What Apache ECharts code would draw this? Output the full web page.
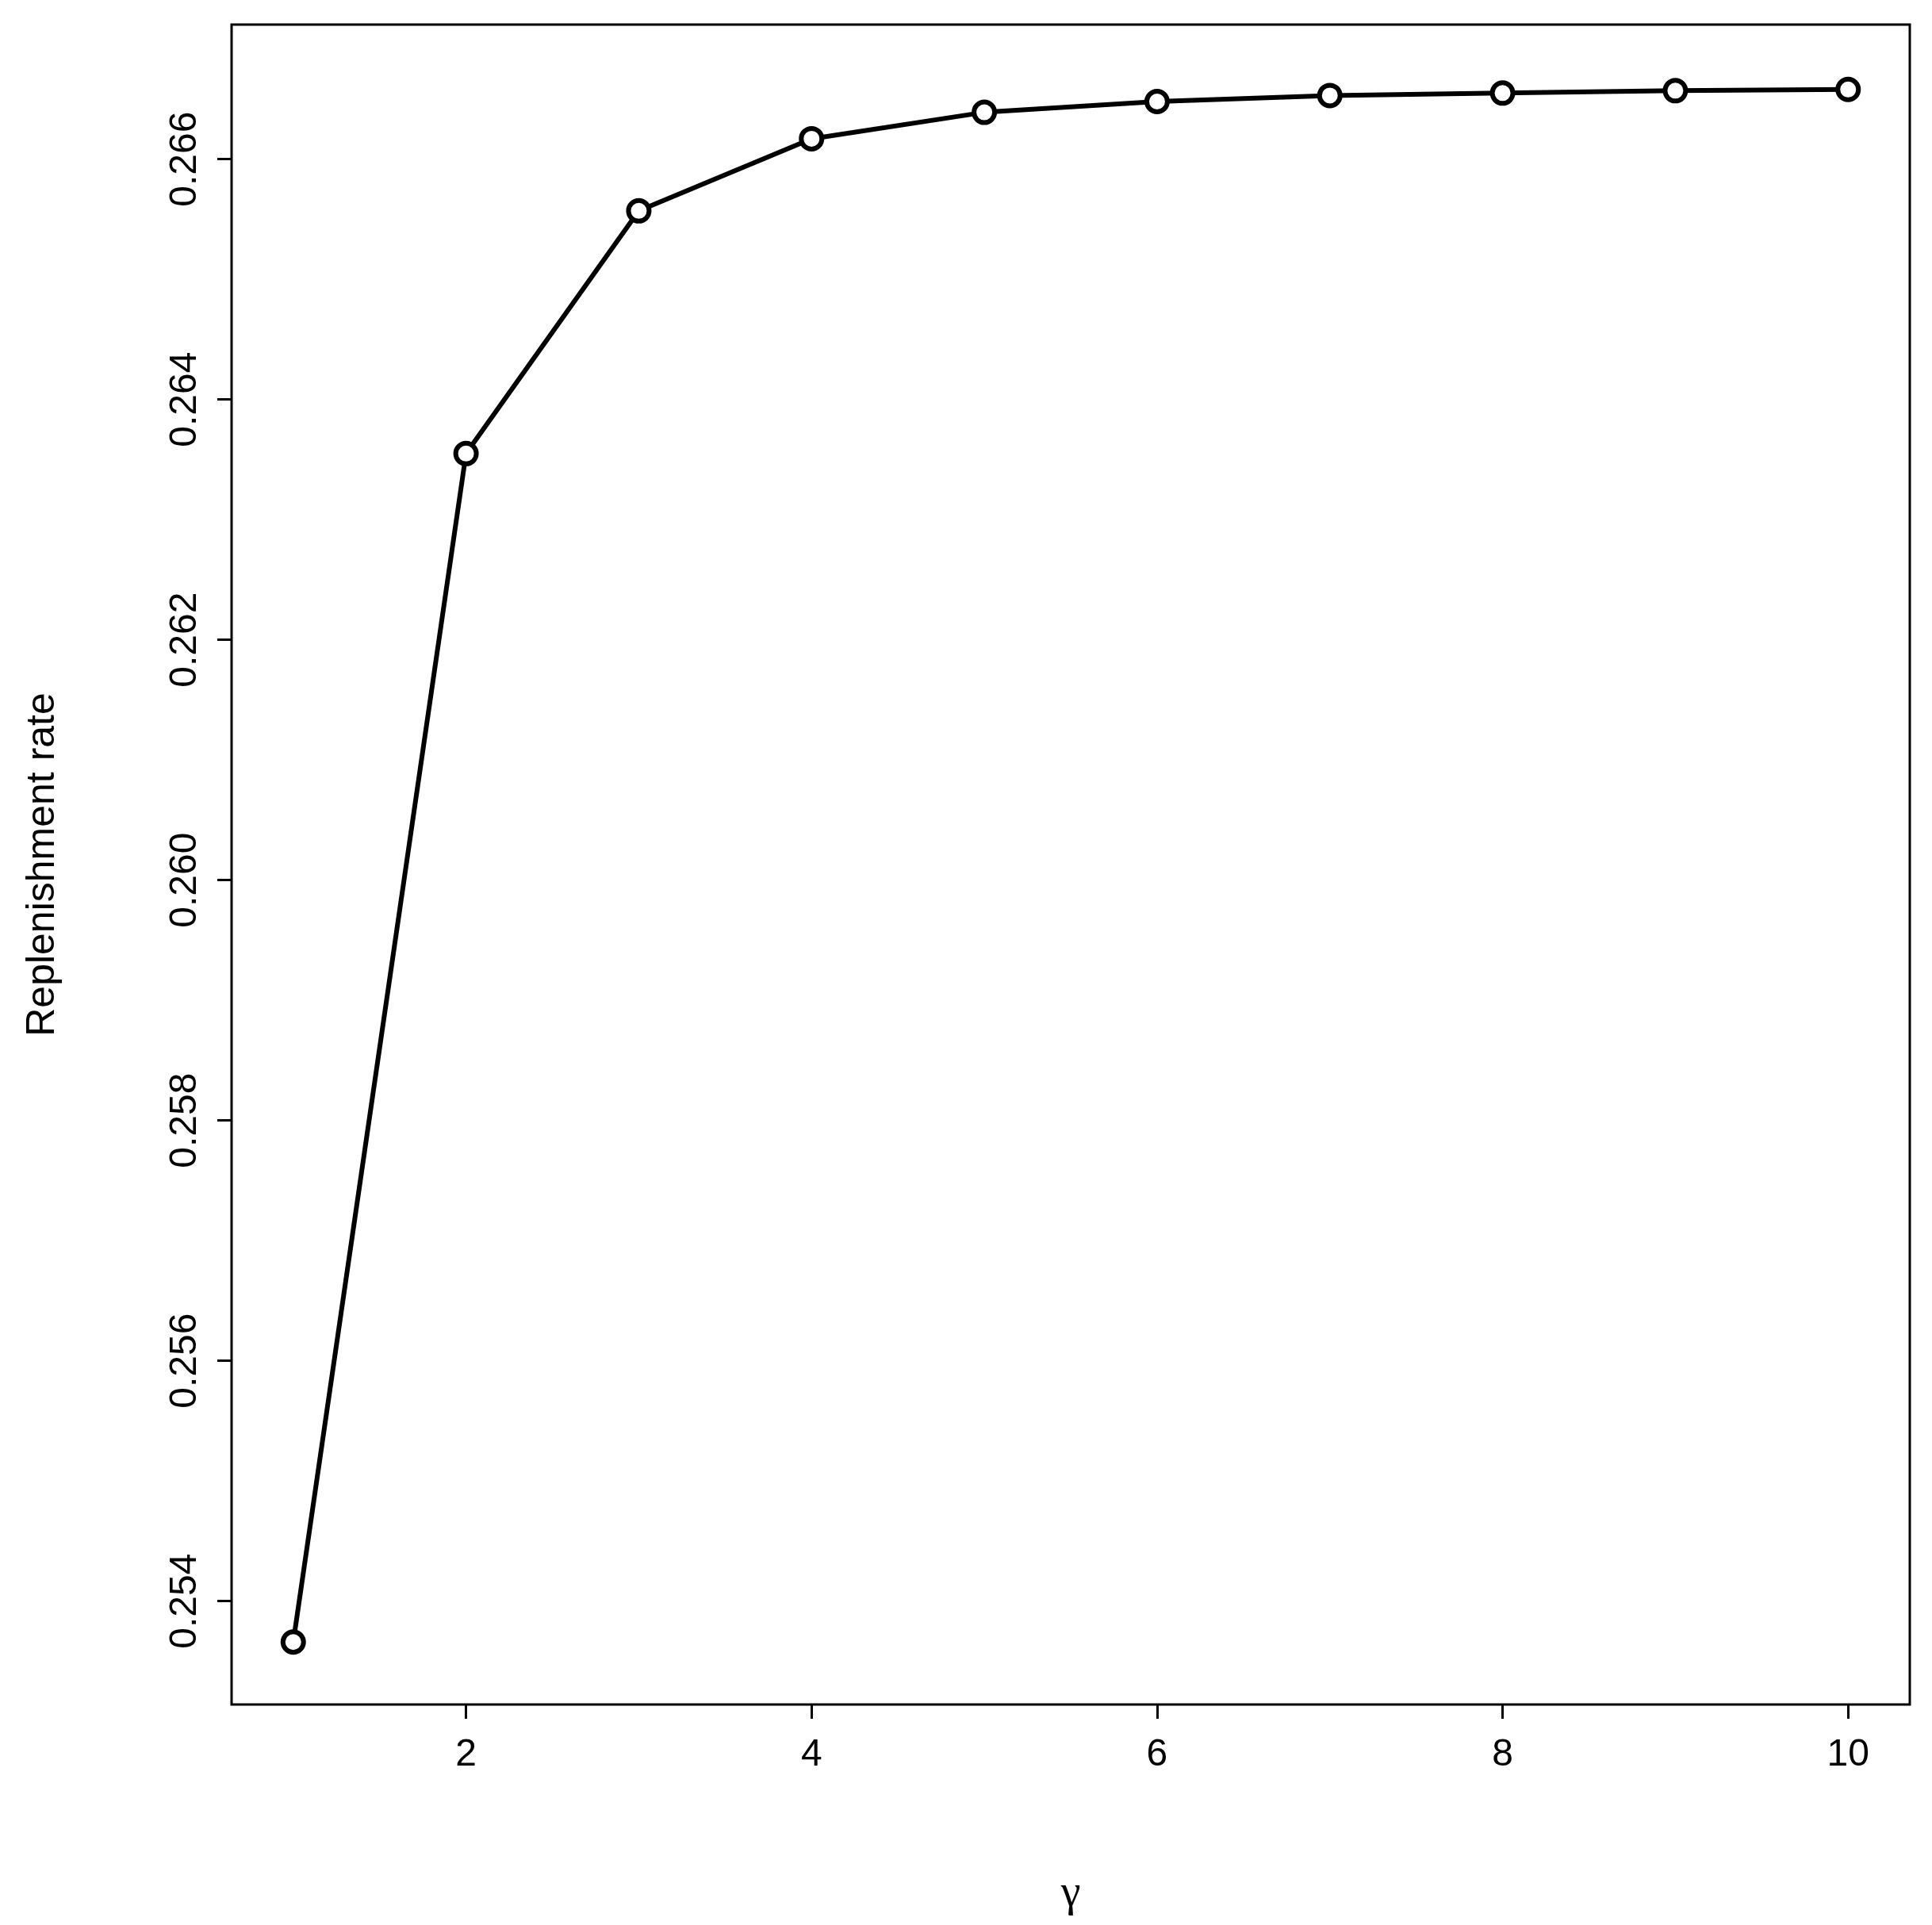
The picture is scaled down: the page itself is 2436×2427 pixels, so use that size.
<!DOCTYPE html>
<html><head><meta charset="utf-8">
<script src="https://cdn.jsdelivr.net/npm/echarts@6/dist/echarts.min.js"></script>
<style>html,body{margin:0;padding:0;background:#fff}#c{width:2436px;height:2427px}</style>
</head><body><div id="c"></div>
<script>
const gammaValues = [1,2,3,4,5,6,7,8,9,10];
const replenishmentRate = [0.25366,0.26355,0.26557,0.26617,0.26639,0.26648,0.26653,0.26655,0.26657,0.26658];
const xTicks = [2,4,6,8,10];
const yTicks = [0.254,0.256,0.258,0.260,0.262,0.264,0.266];
const chart = echarts.init(document.getElementById('c'));
const font = '"Liberation Sans", Arial, sans-serif';
chart.setOption({
  animation:false,
  backgroundColor:'#fff',
  grid:{left:292,right:28,top:31,bottom:278,show:true,borderColor:'#000',borderWidth:3,backgroundColor:'transparent'},
  xAxis:{type:'value',min:0.643,max:10.357,
    axisLine:{show:false},splitLine:{show:false},
    axisTick:{show:true,length:18,lineStyle:{color:'#000',width:3},customValues:xTicks},
    axisLabel:{fontSize:48,color:'#000',fontFamily:font,margin:40,customValues:xTicks}},
  yAxis:{type:'value',min:0.25314,max:0.26712,
    axisLine:{show:false},splitLine:{show:false},
    axisTick:{show:true,length:18,lineStyle:{color:'#000',width:3},customValues:yTicks},
    axisLabel:{fontSize:48,color:'#000',fontFamily:font,margin:34,rotate:90,
      customValues:yTicks,formatter:v=>v.toFixed(3)}},
  graphic:[
    {type:'text',x:54,y:1090,rotation:Math.PI/2,style:{text:'Replenishment rate',fontSize:50,fontFamily:font,fill:'#000',align:'center',verticalAlign:'middle'}},
    {type:'text',x:1350,y:2388,style:{text:'γ',fontSize:56,fontFamily:'"Liberation Serif", serif',fill:'#000',align:'center',verticalAlign:'middle'}}
  ],
  series:[{type:'line',data:gammaValues.map((g,i)=>[g,replenishmentRate[i]]),
    symbol:'circle',symbolSize:26,
    lineStyle:{color:'#000',width:6},
    itemStyle:{color:'#fff',borderColor:'#000',borderWidth:6}}]
});
</script></body></html>
